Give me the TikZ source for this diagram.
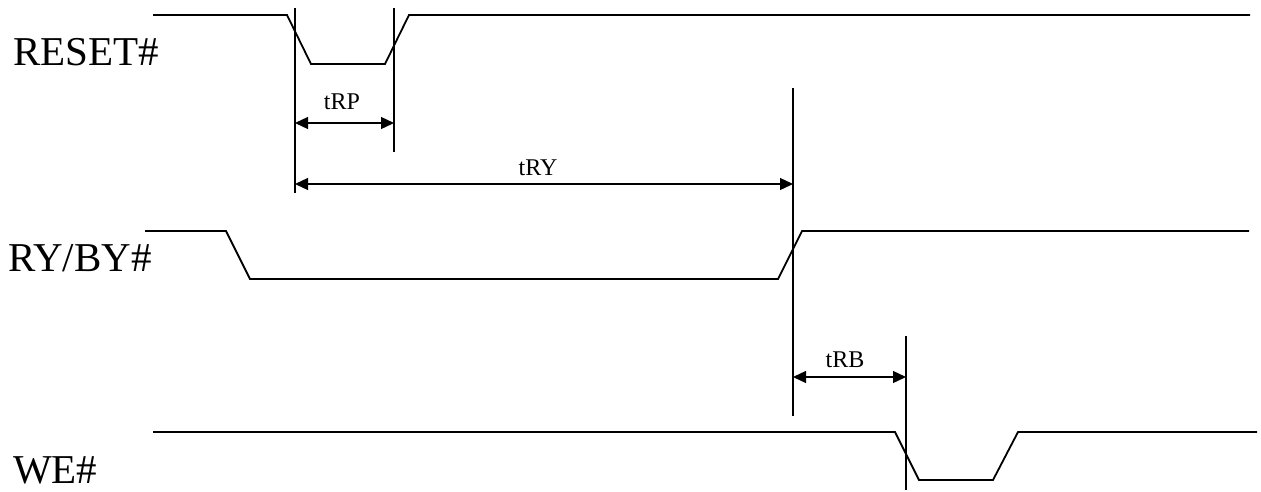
\documentclass[tikz,border=0pt]{standalone}
\usepackage{fontspec}
\setmainfont{Liberation Serif}
\usetikzlibrary{arrows.meta}
\begin{document}
\begin{tikzpicture}[x=1pt,y=-1pt,
  wave/.style={line width=1.8pt, line join=miter},
  guide/.style={line width=1.5pt},
  dimarrow/.style={line width=1.3pt, {Triangle[length=13pt,width=12pt]}-{Triangle[length=13pt,width=12pt]}},
  siglabel/.style={font=\fontsize{41}{45}\selectfont, inner sep=0pt, anchor=base west},
  dimlabel/.style={font=\fontsize{24}{28}\selectfont, inner sep=0pt, anchor=base}]
\useasboundingbox (0,0) rectangle (1261,491);
% signal labels
\node[siglabel] (lreset) at (13,65) {RESET\#};
\node[siglabel] (lry) at (8,271) {RY/BY\#};
\node[siglabel] (lwe) at (13,483) {WE\#};
% waveforms
\draw[wave] (153,15) -- (287,15) -- (311,64) -- (385,64) -- (409,15) -- (1250,15);
\draw[wave] (145,231) -- (226,231) -- (250,279) -- (778,279) -- (802,231) -- (1249,231);
\draw[wave] (153,432) -- (895,432) -- (919,480) -- (993,480) -- (1018,432) -- (1257,432);
% guide lines
\coordinate (v1t) at (295,8);   \coordinate (v1b) at (295,193);
\coordinate (v2t) at (394,8);   \coordinate (v2b) at (394,152);
\coordinate (v3t) at (793,88);  \coordinate (v3b) at (793,416);
\coordinate (v4t) at (906,336); \coordinate (v4b) at (906,490);
\draw[guide] (v1t) -- (v1b);
\draw[guide] (v2t) -- (v2b);
\draw[guide] (v3t) -- (v3b);
\draw[guide] (v4t) -- (v4b);
% dimension arrows
\coordinate (rpL) at (295,123); \coordinate (rpR) at (394,123);
\coordinate (ryL) at (295,184); \coordinate (ryR) at (793,184);
\coordinate (rbL) at (793,377); \coordinate (rbR) at (906,377);
\draw[dimarrow] (rpL) -- (rpR);
\draw[dimarrow] (ryL) -- (ryR);
\draw[dimarrow] (rbL) -- (rbR);
\node[dimlabel] (trp) at (342,109) {tRP};
\node[dimlabel] (try) at (538,175) {tRY};
\node[dimlabel] (trb) at (845,367) {tRB};
\end{tikzpicture}
\end{document}
